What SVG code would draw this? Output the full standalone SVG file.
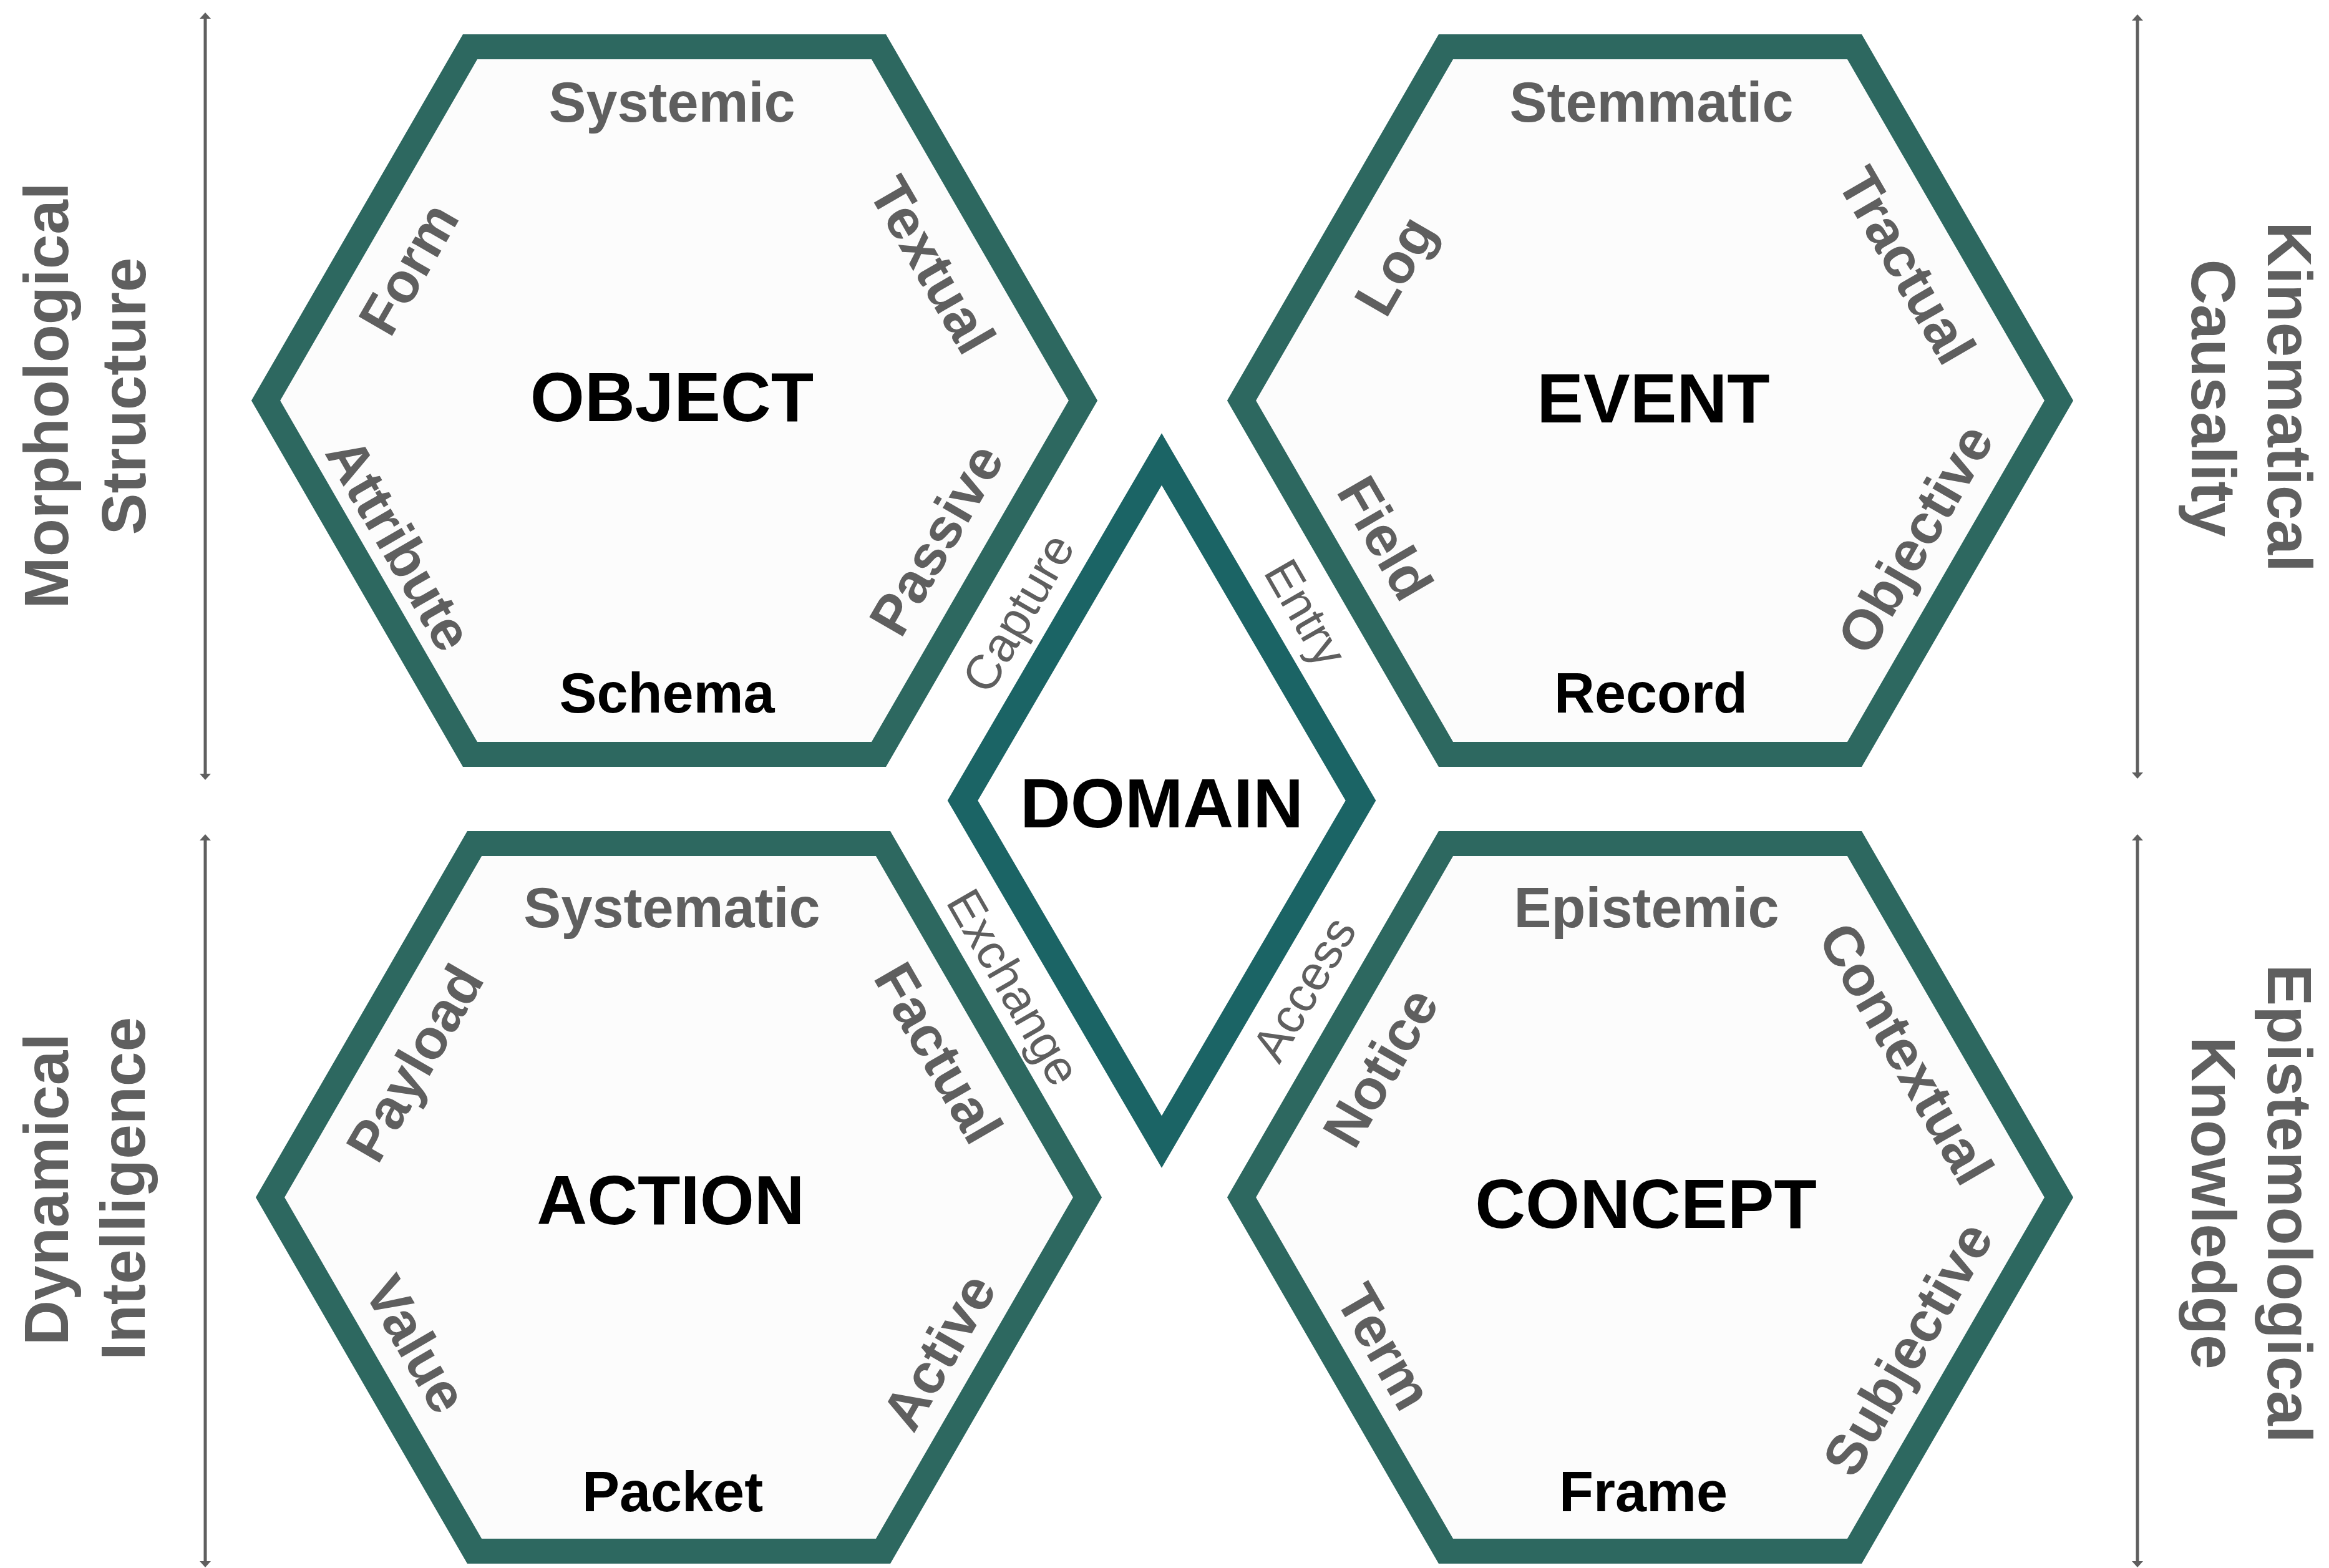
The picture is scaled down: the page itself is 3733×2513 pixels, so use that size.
<svg xmlns="http://www.w3.org/2000/svg" width="3733" height="2513" viewBox="0 0 3733 2513">
<style>
text{font-family:"Liberation Sans",Arial,Helvetica,sans-serif;text-anchor:middle}
.hex{fill:#fcfcfc;stroke:#2d6860;stroke-width:40;stroke-linejoin:miter}
.dia{fill:#ffffff;stroke:#1b6465;stroke-width:42;stroke-linejoin:miter}
.main{font-size:112px;font-weight:bold;fill:#000}
.sub{font-size:90px;font-weight:bold;fill:#000}
.lab{font-size:90px;font-weight:bold;fill:#5f5f5f}
.axis{font-size:100px;font-weight:bold;fill:#5f5f5f}
.rel{font-size:78px;font-weight:normal;fill:#5f5f5f}
.arr{stroke:#5f5f5f;stroke-width:5;fill:none;marker-start:url(#ah);marker-end:url(#ah)}
</style>
<defs>
<marker id="ah" viewBox="0 0 10 18" refX="0" refY="9" markerWidth="10" markerHeight="18" markerUnits="userSpaceOnUse" orient="auto-start-reverse">
<path d="M0,0 L10,9 L0,18 z" fill="#5f5f5f"/>
</marker>
</defs>
<rect width="3733" height="2513" fill="#ffffff"/>

<g id="connectors">
<line class="arr" x1="329" y1="30" x2="329" y2="1240"/>
<line class="arr" x1="329" y1="1347" x2="329" y2="2502"/>
<line class="arr" x1="3426" y1="33" x2="3426" y2="1238"/>
<line class="arr" x1="3426" y1="1347" x2="3426" y2="2502"/>
<text class="rel" transform="translate(1632,982) rotate(-60)" y="27">Capture</text>
<text class="rel" transform="translate(2093,982) rotate(60)" y="27">Entry</text>
<text class="rel" transform="translate(1625,1582) rotate(60)" y="27">Exchange</text>
<text class="rel" transform="translate(2090,1585) rotate(-60)" y="27">Access</text>
</g>

<g id="axis-left-top">
<text class="axis" transform="translate(109,634) rotate(-90)">Morphological</text>
<text class="axis" transform="translate(233,635) rotate(-90)">Structure</text>
</g>
<g id="axis-left-bottom">
<text class="axis" transform="translate(109,1906) rotate(-90)">Dynamical</text>
<text class="axis" transform="translate(232,1905) rotate(-90)">Intelligence</text>
</g>
<g id="axis-right-top">
<text class="axis" transform="translate(3635,636) rotate(90)">Kinematical</text>
<text class="axis" transform="translate(3513,638) rotate(90)">Causality</text>
</g>
<g id="axis-right-bottom">
<text class="axis" transform="translate(3635,1929) rotate(90)">Epistemological</text>
<text class="axis" transform="translate(3513,1928) rotate(90)">Knowledge</text>
</g>

<g id="object">
<polygon class="hex" points="426,642 753.5,75 1408.5,75 1736,642 1408.5,1209 753.5,1209"/>
<text class="main" x="1077" y="675">OBJECT</text>
<text class="lab" x="1077" y="195">Systemic</text>
<text class="sub" x="1069" y="1142">Schema</text>
<text class="lab" transform="translate(654,430) rotate(-60)" y="32">Form</text>
<text class="lab" transform="translate(1495,424) rotate(60)" y="32">Textual</text>
<text class="lab" transform="translate(641,872) rotate(60)" y="32">Attribute</text>
<text class="lab" transform="translate(1500,864) rotate(-60)" y="32">Passive</text>
</g>

<g id="event">
<polygon class="hex" points="1990,642 2317.5,75 2972.5,75 3300,642 2972.5,1209 2317.5,1209"/>
<text class="main" x="2650" y="677">EVENT</text>
<text class="lab" x="2647" y="195">Stemmatic</text>
<text class="sub" x="2646" y="1142">Record</text>
<text class="lab" transform="translate(2235,425) rotate(-60)" y="32">Log</text>
<text class="lab" transform="translate(3057,425) rotate(60)" y="32">Tractual</text>
<text class="lab" transform="translate(2221,862) rotate(60)" y="32">Field</text>
<text class="lab" transform="translate(3069,863) rotate(-60)" y="32">Objective</text>
</g>

<g id="action">
<polygon class="hex" points="433,1919 760.5,1352 1415.5,1352 1743,1919 1415.5,2486 760.5,2486"/>
<text class="main" x="1075" y="1962">ACTION</text>
<text class="lab" x="1077" y="1486">Systematic</text>
<text class="sub" x="1078" y="2422">Packet</text>
<text class="lab" transform="translate(664,1703) rotate(-60)" y="32">Payload</text>
<text class="lab" transform="translate(1505,1687) rotate(60)" y="32">Factual</text>
<text class="lab" transform="translate(668,2154) rotate(60)" y="32">Value</text>
<text class="lab" transform="translate(1504,2166) rotate(-60)" y="32">Active</text>
</g>

<g id="concept">
<polygon class="hex" points="1990,1919 2317.5,1352 2972.5,1352 3300,1919 2972.5,2486 2317.5,2486"/>
<text class="main" x="2638" y="1968">CONCEPT</text>
<text class="lab" x="2639" y="1486">Epistemic</text>
<text class="sub" x="2634" y="2422">Frame</text>
<text class="lab" transform="translate(2212,1710) rotate(-60)" y="32">Notice</text>
<text class="lab" transform="translate(3056,1688) rotate(60)" y="32">Contextual</text>
<text class="lab" transform="translate(2220,2158) rotate(60)" y="32">Term</text>
<text class="lab" transform="translate(3057,2161) rotate(-60)" y="32">Subjective</text>
</g>

<g id="domain">
<polygon class="dia" points="1862,736 2181,1283 1862,1830 1543,1283"/>
<text class="main" x="1862" y="1326">DOMAIN</text>
</g>
</svg>
